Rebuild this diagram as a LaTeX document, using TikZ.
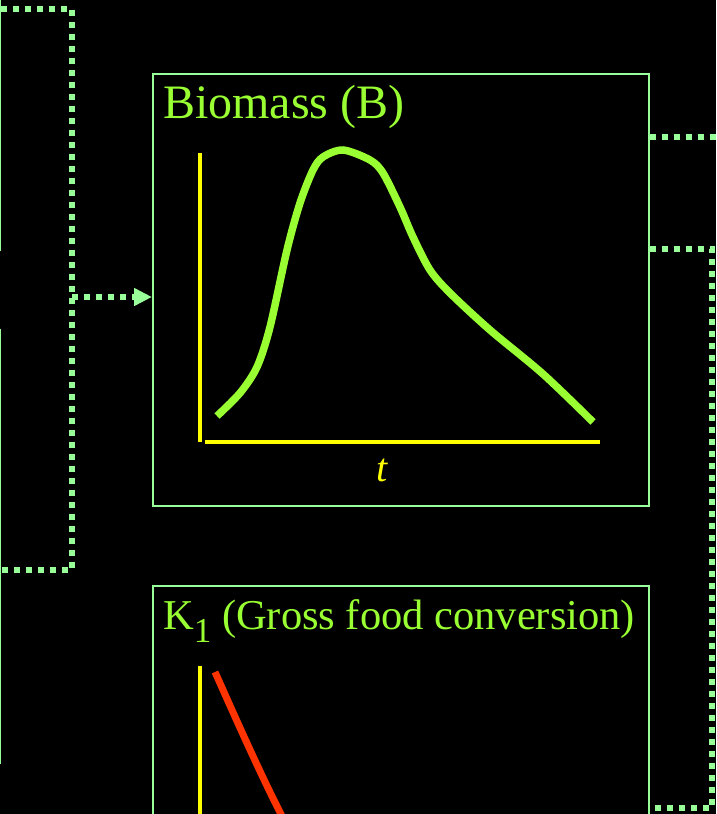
\documentclass[tikz,border=0pt]{standalone}
\usepackage{fontspec}
\setmainfont{Liberation Serif}
\usepackage{tikz}
\usetikzlibrary{arrows.meta, positioning, calc}

\definecolor{framegreen}{HTML}{99FF99}
\definecolor{limegreen}{HTML}{99FF33}
\definecolor{axisyellow}{HTML}{FFFF00}
\definecolor{curvered}{HTML}{FF3300}

\tikzset{
  panel/.style={draw=framegreen, line width=1.8pt, rectangle, inner sep=0pt, anchor=north west},
  paneltitle/.style={text=limegreen, inner sep=0pt, anchor=base west},
  flow/.style={draw=framegreen, line width=6pt, dash pattern=on 6pt off 6pt},
  axis/.style={draw=axisyellow, line width=4pt},
}

\begin{document}
\begin{tikzpicture}[x=1pt, y=-1pt, >=Stealth]
  \useasboundingbox (0,0) rectangle (716,814);
  \fill[black] (0,0) rectangle (716,814);
  \clip (0,0) rectangle (716,814);

  % boxes cut off at the left edge
  \node[panel, anchor=north east, minimum width=200pt, minimum height=300pt] (srcA) at (1,-51) {};
  \node[panel, anchor=north east, minimum width=200pt, minimum height=433pt] (srcB) at (1,329) {};

  % panels
  \node[panel, minimum width=496pt, minimum height=432pt] (bio) at (152,73) {};
  \node[panel, minimum width=496pt, minimum height=300pt] (k1) at (152,585) {};

  \node[paneltitle, font=\fontsize{48}{50}\selectfont] (biotitle) at (163,118) {Biomass (B)};
  \node[paneltitle, font=\fontsize{42.5}{45}\selectfont] (k1title) at (163,629)
    {K\raisebox{-13pt}{\fontsize{35}{35}\selectfont 1} (Gross food conversion)};

  % biomass plot
  \draw[axis] (200,153) -- (200,442);
  \draw[axis] (205,442) -- (600,442);
  \node[text=axisyellow, font=\fontsize{40}{42}\selectfont\itshape] (tlabel) at (382,470) {t};
  \draw[limegreen, line width=7.5pt]
    plot[smooth, tension=0.5] coordinates {(217,416) (240,393) (257,367) (270,327) (287,250)
      (300,203) (313,170) (323,157) (343,150) (370,160) (383,173) (400,207) (413,237)
      (430,270) (450,293) (490,330) (543,374) (593,422)};

  % K1 plot
  \draw[axis] (200,666) -- (200,830);
  \draw[curvered, line width=7pt] (215,672) .. controls (232,710) and (262,778) .. (284,820);

  % connectors
  \coordinate (ltop) at (72,9);
  \coordinate (lbot) at (72,570);
  \coordinate (ljoin) at (72,297);
  \draw[flow] (srcA.east |- ltop) -- (ltop) -- (lbot) -- (srcB.east |- lbot);
  \draw[flow, -{Triangle[length=18pt, width=17pt]}] (ljoin) -- (bio.west |- ljoin);

  \coordinate (rout) at (740,137);
  \coordinate (rtop) at (712,249);
  \coordinate (rbot) at (712,808);
  \draw[flow] (bio.east |- rout) -- (rout);
  \draw[flow] (bio.east |- rtop) -- (rtop) -- (rbot) -- (k1.east |- rbot);
\end{tikzpicture}
\end{document}
